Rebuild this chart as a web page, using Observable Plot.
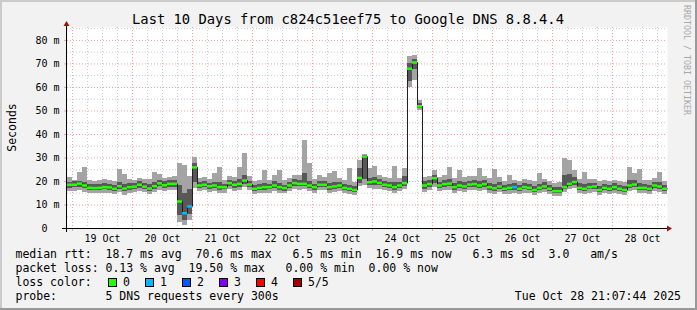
<!DOCTYPE html>
<html><head><meta charset="utf-8">
<script src="https://cdn.jsdelivr.net/npm/d3@7"></script>
<script src="https://cdn.jsdelivr.net/npm/@observablehq/plot@0.6"></script>
<style>
html,body{margin:0;padding:0;background:#f2f2f2;}
#chart{position:relative;width:697px;height:310px;overflow:hidden;background:#f2f2f2;}
svg text.pre{white-space:pre;}
</style></head><body><div id="chart"></div>
<script>
const title = "Last 10 Days from c824c51eef75 to Google DNS 8.8.4.4";
const yLabel = "Seconds";
const watermark = "RRDTOOL / TOBI OETIKER";
const dayLabels = ["19 Oct","20 Oct","21 Oct","22 Oct","23 Oct","24 Oct","25 Oct","26 Oct","27 Oct","28 Oct"];
const yTicks = [0,10,20,30,40,50,60,70,80];
const yMinor = [5,15,25,35,45,55,65,75,85];
const yMax = 85.5;

// 2-hour bins starting 18 Oct 22:00; five sorted pings per bin (ms)
const p1 = [
15.8,15.9,16.1,15.4,14.9,14.8,15.0,15.1,14.9,14.5,
15.3,14.2,14.9,15.4,15.8,15.2,14.6,15.5,16.3,15.7,
16.2,16.0,2.6,1.3,3.5,17.2,15.8,16.0,15.5,15.8,
15.0,15.1,16.6,15.9,16.2,17.3,16.0,14.4,14.8,15.1,
15.0,15.6,15.0,14.7,15.7,16.5,16.3,16.4,15.7,15.0,
16.0,16.0,15.1,15.3,15.8,14.8,14.4,14.0,17.9,18.3,
16.9,16.6,16.8,16.0,15.6,15.0,15.6,16.6,60.1,63.0,
50.2,15.5,16.0,17.5,15.6,16.2,16.3,15.0,15.6,15.3,
16.0,16.2,15.6,16.2,14.9,14.5,15.2,14.3,14.6,15.0,
14.5,15.1,14.8,14.1,14.8,15.3,14.4,13.6,13.7,15.2,
16.4,17.1,14.9,14.5,15.1,15.4,14.1,14.9,14.5,15.1,
14.5,14.1,15.8,16.2,14.9,14.9,14.5,15.8,15.4,14.5];
const p2 = [
17.2,17.3,17.6,16.9,16.2,16.0,16.1,16.4,16.2,15.8,
16.6,15.6,16.3,16.5,17.2,16.4,15.9,16.8,17.8,17.0,
17.6,17.5,5.5,3.2,5.8,19.5,17.0,17.3,16.8,17.0,
16.3,16.4,18.0,17.2,17.6,18.8,17.4,15.6,16.0,16.3,
16.4,17.0,16.3,15.9,17.0,18.0,17.7,17.8,17.0,16.3,
17.3,17.3,16.3,16.6,17.0,16.0,15.6,15.2,19.0,21.0,
18.4,18.2,18.1,17.3,17.0,16.3,17.0,18.0,62.5,67.5,
51.2,16.6,17.4,19.3,17.0,17.5,17.7,16.3,17.0,16.6,
17.4,17.6,17.0,17.6,16.3,15.8,16.6,15.6,16.0,16.3,
15.7,16.4,16.0,15.3,16.1,16.6,15.7,14.8,14.8,16.4,
17.7,18.5,16.1,15.7,16.4,16.7,15.2,16.1,15.7,16.3,
15.7,15.3,17.1,17.5,16.1,16.2,15.7,17.1,16.7,15.7];
const median = [
18.6,18.6,19.1,18.3,17.3,17.2,17.3,17.6,17.5,16.9,
18.0,17.0,17.6,17.8,18.6,17.8,17.0,18.0,19.2,18.4,
19.0,19.0,11.5,6.5,9.4,26.0,18.3,18.6,18.0,18.3,
17.6,17.6,19.3,18.6,19.0,20.4,18.7,16.9,17.3,17.6,
17.6,18.3,17.6,17.2,18.3,19.3,19.0,19.0,18.3,17.6,
18.6,18.6,17.6,17.9,18.3,17.3,16.9,16.4,21.5,30.6,
19.7,20.0,19.4,18.6,18.3,17.6,18.3,19.3,68.0,70.6,
52.0,18.3,18.9,21.4,18.3,18.9,19.1,17.6,18.3,17.9,
18.7,18.9,18.3,18.9,17.6,17.1,17.9,16.9,17.3,17.6,
16.9,17.6,17.3,16.4,17.3,17.9,16.9,15.9,15.9,17.6,
19.0,19.8,17.3,16.9,17.6,17.9,16.4,17.3,16.9,17.6,
16.9,16.4,18.3,18.7,17.3,17.3,16.9,18.3,17.9,16.9];
const p4 = [
19.6,19.8,20.2,19.5,18.7,18.6,18.9,19.0,18.8,18.3,
19.6,18.8,19.0,19.1,19.9,19.3,18.6,19.4,20.4,19.8,
20.3,20.4,18.5,14.8,16.5,27.8,19.6,20.0,19.3,19.7,
19.4,18.9,20.6,20.0,20.8,22.6,20.2,18.2,18.6,19.1,
18.9,19.8,19.0,18.5,19.7,20.8,20.3,23.5,20.2,18.9,
19.9,20.0,19.0,19.4,19.6,18.7,18.3,17.8,25.5,31.0,
21.2,21.8,20.8,20.0,19.6,19.4,19.6,22.0,70.0,71.8,
53.2,20.0,20.4,22.6,19.7,20.5,20.8,19.0,19.8,19.4,
20.2,20.4,20.1,20.3,19.0,18.8,19.4,18.4,18.9,19.0,
18.3,19.0,18.8,17.9,18.9,19.4,18.5,17.4,17.6,22.5,
23.0,21.8,19.0,18.6,19.1,19.3,17.9,18.8,18.4,19.0,
18.3,17.9,20.4,20.6,19.2,18.8,18.5,19.7,19.4,18.3];
const p5 = [
21.8,20.6,23.8,26.0,20.3,20.1,20.6,20.9,20.4,19.9,
25.0,23.0,20.8,20.5,21.2,20.9,21.0,24.0,23.0,21.4,
21.8,22.1,27.6,26.8,22.0,30.2,21.2,21.9,20.9,23.5,
26.0,20.5,22.2,21.5,26.0,32.0,22.0,19.8,20.5,24.6,
20.6,22.5,24.6,20.4,21.3,22.4,22.5,37.4,27.5,20.8,
22.5,21.6,23.5,24.3,21.1,20.3,25.5,19.7,28.8,31.5,
25.4,26.4,22.4,21.6,21.2,26.4,21.3,25.4,73.2,73.4,
54.5,21.5,22.0,24.7,21.8,22.4,26.1,21.4,24.5,21.6,
22.3,22.2,25.4,22.0,21.3,25.0,21.5,20.2,22.6,20.6,
19.9,20.9,20.4,20.2,23.3,21.0,20.2,19.1,19.5,29.6,
28.9,24.7,21.0,24.0,20.8,20.9,19.8,20.5,20.0,20.6,
19.9,19.6,25.8,23.5,24.9,20.6,20.4,21.3,24.0,19.9];
const lost = [
0,0,0,0,0,0,0,0,0,0, 0,0,0,0,0,0,0,0,0,0,
0,0,0,1,1,0,0,0,0,0, 0,0,0,0,0,0,0,0,0,0,
0,0,0,0,0,0,0,0,0,0, 0,0,0,0,0,0,0,0,0,0,
0,0,0,0,0,0,0,0,0,0, 0,0,0,0,0,0,0,0,0,0,
0,0,0,0,0,0,0,0,0,1, 0,0,0,0,0,0,0,0,0,0,
0,0,0,0,0,0,0,0,0,0, 0,0,0,0,0,0,0,0,0,0];

const lossLabels = ["0","1","2","3","4","5/5"];
const lossColors = ["#26ff00","#00b8ff","#0059ff","#7e00ff","#ff0000","#a00000"];
const legendRows = [
  "median rtt:  18.7 ms avg  70.6 ms max   6.5 ms min  16.9 ms now   6.3 ms sd  3.0   am/s",
  "packet loss: 0.13 % avg  19.50 % max   0.00 % min  0.00 % now",
  "loss color:",
  "probe:       5 DNS requests every 300s"
];
const stamp = "Tue Oct 28 21:07:44 2025";

const HOUR = 3600e3;
const start = new Date(Date.UTC(2025, 9, 18, 22));
const end = new Date(+start + 240 * HOUR);
const bins = median.map((m, k) => ({
  t0: new Date(+start + k * 2 * HOUR), t1: new Date(+start + (k + 1) * 2 * HOUR),
  p1: p1[k], p2: p2[k], med: m, p4: p4[k], p5: p5[k], loss: lost[k]
}));
const linePts = bins.map(b => ({t: b.t0, v: b.med})).concat([{t: bins[bins.length-1].t1, v: median[median.length-1]}]);
const noons = dayLabels.map((_, i) => new Date(Date.UTC(2025, 9, 19 + i, 12)));
const midnights = dayLabels.map((_, i) => new Date(Date.UTC(2025, 9, 19 + i)));
const sixHours = [];
dayLabels.forEach((_, i) => [6, 12, 18].forEach(h => sixHours.push(new Date(Date.UTC(2025, 9, 19 + i, h)))));

const MONO = "'DejaVu Sans Mono', monospace";
const GRID = "#cccccc", MGRID = "#f4a0a0";

const plot = Plot.plot({
  width: 697, height: 310,
  marginLeft: 67, marginRight: 30, marginTop: 27, marginBottom: 82,
  style: {background: "transparent", fontFamily: MONO, fontSize: "10px", color: "black", overflow: "visible"},
  x: {type: "utc", domain: [start, end]},
  y: {domain: [0, yMax]},
  marks: [
    Plot.frame({fill: "white", stroke: null}),
    Plot.gridX({ticks: sixHours, stroke: GRID, strokeOpacity: 1, strokeDasharray: "1,2"}),
    Plot.gridY({ticks: yMinor, stroke: GRID, strokeOpacity: 1, strokeDasharray: "1,2"}),
    Plot.gridX({ticks: midnights, stroke: MGRID, strokeOpacity: 1, strokeDasharray: "1,2"}),
    Plot.gridY({ticks: yTicks, stroke: MGRID, strokeOpacity: 1, strokeDasharray: "1,2"}),
    Plot.rect(bins, {x1: "t0", x2: "t1", y1: "p1", y2: "p5", fill: "#a4a4a4", shapeRendering: "crispEdges"}),
    Plot.rect(bins, {x1: "t0", x2: "t1", y1: "p2", y2: "p4", fill: "#585858", shapeRendering: "crispEdges"}),
    Plot.line(linePts, {x: "t", y: "v", curve: "step-after", stroke: "#202020", strokeWidth: 1}),
    Plot.ruleY(bins, {y: "med", x1: "t0", x2: "t1", stroke: d => lossColors[d.loss], strokeWidth: 2.5}),
    Plot.axisX({ticks: noons, tickSize: 0, tickPadding: 6, label: null, fill: "black",
      tickFormat: d => dayLabels[noons.findIndex(n => +n === +d)]}),
    Plot.axisX({ticks: midnights, tickSize: 3, tickFormat: () => "", label: null, stroke: MGRID}),
    Plot.axisY({ticks: yTicks, tickSize: 3, tickPadding: 5, label: null, stroke: MGRID, fill: "black",
      tickFormat: v => v === 0 ? "0\u00a0\u00a0" : v + " m"})
  ]
});
document.getElementById("chart").appendChild(plot);

const svg = d3.select(plot);
const xs = plot.scale("x"), ys = plot.scale("y");
const X0 = xs.apply(start), X1 = xs.apply(end), Y0 = ys.apply(0), YT = ys.apply(yMax);
const g = svg.append("g").attr("text-anchor", "start");
// border shading
g.append("rect").attr("x", 0).attr("y", 0).attr("width", 697).attr("height", 2).attr("fill", "#cbcbcb");
g.append("rect").attr("x", 0).attr("y", 0).attr("width", 2).attr("height", 310).attr("fill", "#cbcbcb");
g.append("rect").attr("x", 0).attr("y", 308).attr("width", 697).attr("height", 2).attr("fill", "#999999");
g.append("rect").attr("x", 695).attr("y", 0).attr("width", 2).attr("height", 310).attr("fill", "#999999");
// axes
g.append("line").attr("x1", X0 - 5).attr("x2", X1 + 1).attr("y1", Y0 + 0.5).attr("y2", Y0 + 0.5).attr("stroke", "black");
g.append("line").attr("x1", X0 - 0.5).attr("x2", X0 - 0.5).attr("y1", Y0 + 4).attr("y2", YT - 4).attr("stroke", "black");
g.append("path").attr("d", `M${X1},${Y0 - 2.5}L${X1 + 5},${Y0 + 0.5}L${X1},${Y0 + 3.5}Z`).attr("fill", "#a01010");
g.append("path").attr("d", `M${X0 - 3.5},${YT - 1}L${X0 - 0.5},${YT - 6}L${X0 + 2.5},${YT - 1}Z`).attr("fill", "#a01010");
// title, unit, watermark
g.append("text").attr("x", 348).attr("y", 24).attr("text-anchor", "middle")
  .attr("font-family", MONO).attr("font-size", "13.8px").attr("fill", "black").text(title);
g.append("text").attr("transform", `translate(15.5,${(Y0 + YT) / 2}) rotate(-90)`).attr("text-anchor", "middle")
  .attr("font-family", MONO).attr("font-size", "11.5px").attr("fill", "black").text(yLabel);
g.append("text").attr("transform", "translate(683.5,5) rotate(90)").attr("text-anchor", "start")
  .attr("font-family", MONO).attr("font-size", "8.3px").attr("fill", "#a8a8a8").text(watermark);
// legend
legendRows.forEach((s, i) => {
  g.append("text").attr("class", "pre").attr("x", 15.5).attr("y", 258 + 14 * i).attr("text-anchor", "start")
    .attr("font-family", MONO).attr("font-size", "11.5px").attr("fill", "black").text(s);
});
lossLabels.forEach((lab, i) => {
  const bx = 108 + 37 * i;
  g.append("rect").attr("x", bx + 0.5).attr("y", 278.5).attr("width", 8).attr("height", 8)
    .attr("fill", lossColors[i]).attr("stroke", "black").attr("stroke-width", 1);
  g.append("text").attr("x", bx + 15).attr("y", 286).attr("text-anchor", "start").attr("font-family", MONO)
    .attr("font-size", "11.5px").attr("fill", "black").text(lab);
});
g.append("text").attr("x", 681).attr("y", 300).attr("text-anchor", "end")
  .attr("font-family", MONO).attr("font-size", "11.5px").attr("fill", "black").text(stamp);
</script></body></html>
